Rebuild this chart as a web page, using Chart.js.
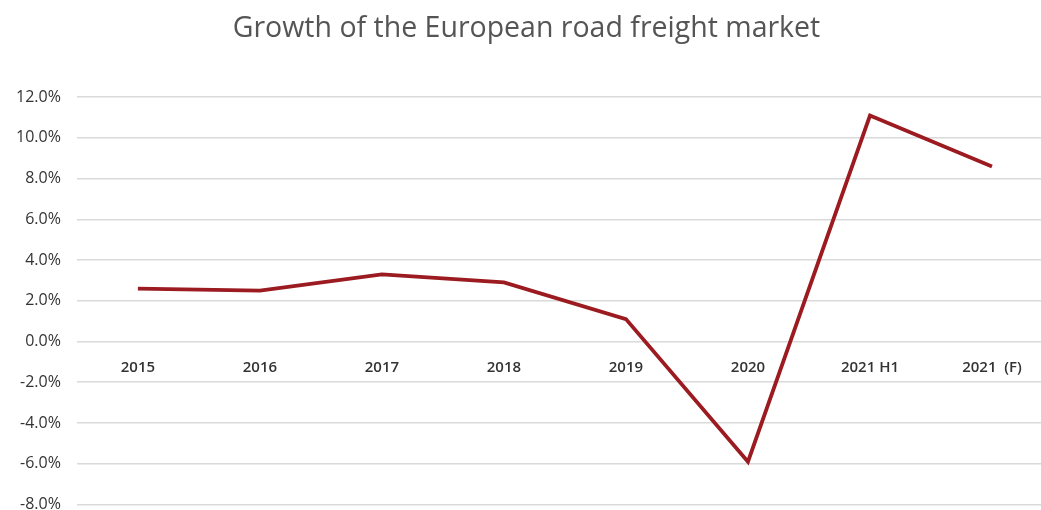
<!DOCTYPE html>
<html lang="en">
<head>
  <meta charset="UTF-8">
  <script src="https://cdn.jsdelivr.net/npm/chart.js"></script>
  <title>Growth of the European road freight market</title>
  <style>
    html, body { margin:0; padding:0; background:#fff; overflow:hidden; }
    #wrap { width:1053px; height:530px; }
  </style>
</head>
<body>
  <div id="wrap"><canvas id="myChart"></canvas></div>
  <script>
    // chart data
    const years = ['2015', '2016', '2017', '2018', '2019', '2020', '2021 H1', '2021  (F)'];
    const growth = [2.6, 2.5, 3.3, 2.9, 1.1, -5.9, 11.1, 8.6];
    const yMin = -8, yMax = 12, yStep = 2;

    const ctx = document.getElementById('myChart');
    new Chart(ctx, {
      type: 'line',
      data: {
        labels: years,
        datasets: [{
          label: 'Growth',
          data: growth,
          borderColor: '#9b1b21',
          borderWidth: 3.8,
          pointRadius: 0,
          tension: 0,
          fill: false
        }]
      },
      options: {
        responsive: true,
        maintainAspectRatio: false,
        animation: false,
        layout: { padding: { left: 0, right: 0, top: 6, bottom: 6 } },
        plugins: {
          legend: { display: false },
          tooltip: { enabled: false },
          title: {
            display: true,
            text: 'Growth of the European road freight market',
            color: '#555',
            font: { family: 'Open Sans', size: 28.5, weight: 'normal' },
            padding: { top: 6, bottom: 51 }
          }
        },
        scales: {
          x: {
            position: { y: 0 },
            offset: true,
            grid: { display: false },
            border: { display: false },
            ticks: {
              color: '#333',
              padding: 9,
              maxRotation: 0,
              font: { family: 'Open Sans', size: 15, weight: '600' }
            }
          },
          y: {
            min: yMin,
            max: yMax,
            border: { display: false },
            grid: { color: '#dadada', lineWidth: 1.5, drawTicks: false },
            ticks: {
              stepSize: yStep,
              color: '#333',
              padding: 16,
              font: { family: 'Open Sans', size: 16 },
              callback: v => v.toFixed(1) + '%'
            }
          }
        }
      }
    });
  </script>
</body>
</html>
